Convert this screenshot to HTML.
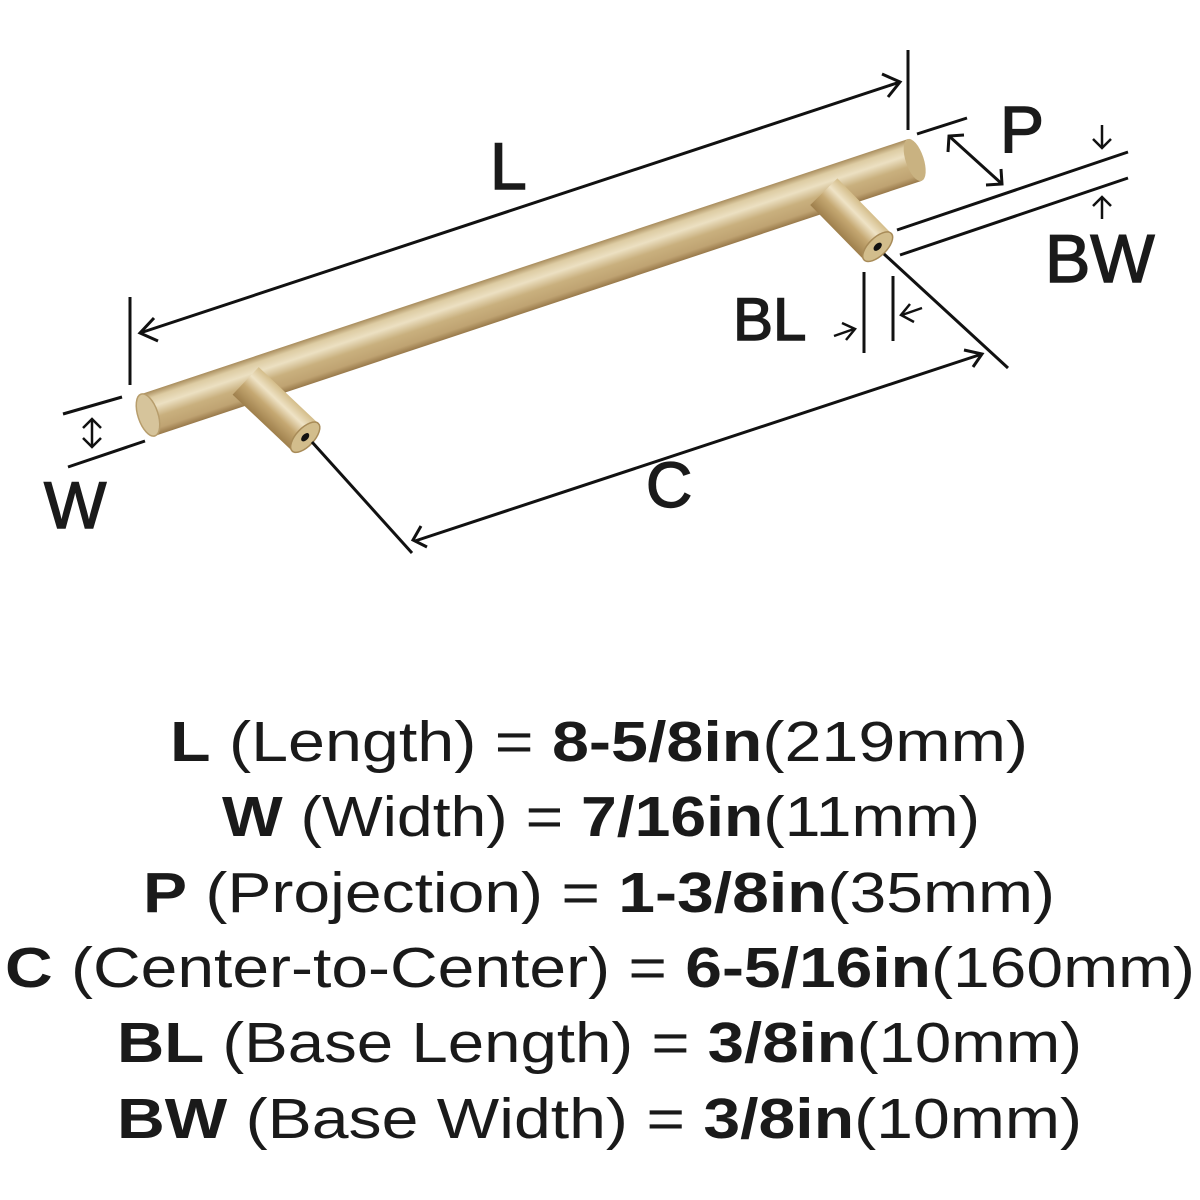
<!DOCTYPE html>
<html><head><meta charset="utf-8"><style>
html,body{margin:0;padding:0;background:#fff}
svg{display:block}
</style></head><body>
<svg width="1200" height="1200" viewBox="0 0 1200 1200" xmlns="http://www.w3.org/2000/svg">
<defs>
<linearGradient id="bar" x1="0" y1="0" x2="0" y2="1">
<stop offset="0" stop-color="#a88c5c"/>
<stop offset="0.15" stop-color="#ddcca3"/>
<stop offset="0.35" stop-color="#ece0c2"/>
<stop offset="0.6" stop-color="#c9b07e"/>
<stop offset="0.85" stop-color="#bfa372"/>
<stop offset="1" stop-color="#98794a"/>
</linearGradient>
<linearGradient id="post" x1="0" y1="0" x2="0" y2="1">
<stop offset="0" stop-color="#d4bd8a"/>
<stop offset="0.3" stop-color="#efe3c6"/>
<stop offset="0.6" stop-color="#c5a872"/>
<stop offset="1" stop-color="#9e7f4c"/>
</linearGradient>
</defs>
<!-- bar -->
<g transform="rotate(-18.4 148 415)">
<rect x="148" y="393" width="808" height="44" fill="url(#bar)"/>
<ellipse cx="956" cy="415" rx="9" ry="22" fill="#c9b281"/>
<ellipse cx="148" cy="415" rx="10" ry="22" fill="#d6c49b" stroke="#b79d6c" stroke-width="1.5"/>
</g>
<!-- left post -->
<g transform="rotate(43.4 250 385)">
<rect x="244" y="366" width="82" height="38" fill="url(#post)"/>
<ellipse cx="326" cy="385" rx="9" ry="19" fill="#d2bd8c" stroke="#a88b58" stroke-width="1.5"/>
<ellipse cx="326" cy="385" rx="3" ry="5" fill="#111"/>
</g>
<!-- right post -->
<g transform="rotate(45.6 828 196)">
<rect x="822" y="177" width="77" height="38" fill="url(#post)"/>
<ellipse cx="899" cy="196" rx="9" ry="19" fill="#d2bd8c" stroke="#a88b58" stroke-width="1.5"/>
<ellipse cx="899" cy="196" rx="3" ry="5" fill="#111"/>
</g>
<g stroke="#111" stroke-width="3" fill="none" stroke-linecap="butt">
<!-- L -->
<line x1="130" y1="297" x2="130" y2="385"/>
<line x1="908" y1="50" x2="908" y2="130"/>
<line x1="140" y1="333" x2="900" y2="82"/>
<polyline points="154,318 140,333 158,341"/>
<polyline points="882,74 900,82 888,97"/>
<!-- W -->
<line x1="63" y1="414" x2="122" y2="397"/>
<line x1="68" y1="467" x2="145" y2="441"/>
<line x1="92" y1="419" x2="92" y2="447" stroke-width="2.5"/>
<polyline points="83,428 92,419 101,428" stroke-width="2.5"/>
<polyline points="83,438 92,447 101,438" stroke-width="2.5"/>
<!-- C -->
<line x1="312" y1="442" x2="412" y2="553"/>
<line x1="884" y1="254" x2="1008" y2="368"/>
<line x1="415" y1="541" x2="982" y2="354"/>
<polyline points="421,526 413,540 427,547"/>
<polyline points="964,350 982,354 973,367"/>
<!-- P -->
<line x1="917" y1="134" x2="967" y2="118"/>
<line x1="949" y1="136" x2="1002" y2="184"/>
<polyline points="948,152 949,136 964,135"/>
<polyline points="986,185 1002,184 1001,169"/>
<!-- BW -->
<line x1="897" y1="230" x2="1128" y2="152"/>
<line x1="900" y1="255" x2="1128" y2="178"/>
<line x1="1102" y1="125" x2="1102" y2="147" stroke-width="2.5"/>
<polyline points="1093,139 1102,148 1111,139" stroke-width="2.5"/>
<line x1="1102" y1="198" x2="1102" y2="219" stroke-width="2.5"/>
<polyline points="1093,206 1102,197 1111,206" stroke-width="2.5"/>
<!-- BL -->
<line x1="864" y1="272" x2="864" y2="353"/>
<line x1="893" y1="276" x2="893" y2="341"/>
<line x1="834" y1="336" x2="854" y2="329" stroke-width="2.5"/>
<polyline points="842,323 855,329 846,340" stroke-width="2.5"/>
<line x1="922" y1="308" x2="902" y2="315" stroke-width="2.5"/>
<polyline points="914,322 901,315 910,304" stroke-width="2.5"/>
</g>
<g font-family="Liberation Sans, sans-serif" fill="#1a1a1a" stroke="#1a1a1a" stroke-width="1.5">
<text x="490" y="189" font-size="66">L</text>
<text x="1000" y="152" font-size="66">P</text>
<text x="1045" y="282" font-size="68">BW</text>
<text x="733" y="340" font-size="60">BL</text>
<text x="646" y="507" font-size="64">C</text>
<text x="44" y="528" font-size="66">W</text>
</g>
<g font-family="Liberation Sans, sans-serif" font-size="57" fill="#1a1a1a" text-anchor="start">
<text x="170" y="761" textLength="858" lengthAdjust="spacingAndGlyphs"><tspan font-weight="bold">L</tspan> (Length) = <tspan font-weight="bold">8-5/8in</tspan>(219mm)</text>
<text x="222" y="836" textLength="758" lengthAdjust="spacingAndGlyphs"><tspan font-weight="bold">W</tspan> (Width) = <tspan font-weight="bold">7/16in</tspan>(11mm)</text>
<text x="143" y="912" textLength="912" lengthAdjust="spacingAndGlyphs"><tspan font-weight="bold">P</tspan> (Projection) = <tspan font-weight="bold">1-3/8in</tspan>(35mm)</text>
<text x="5" y="987" textLength="1190" lengthAdjust="spacingAndGlyphs"><tspan font-weight="bold">C</tspan> (Center-to-Center) = <tspan font-weight="bold">6-5/16in</tspan>(160mm)</text>
<text x="117" y="1062" textLength="965" lengthAdjust="spacingAndGlyphs"><tspan font-weight="bold">BL</tspan> (Base Length) = <tspan font-weight="bold">3/8in</tspan>(10mm)</text>
<text x="117" y="1138" textLength="965" lengthAdjust="spacingAndGlyphs"><tspan font-weight="bold">BW</tspan> (Base Width) = <tspan font-weight="bold">3/8in</tspan>(10mm)</text>
</g>
</svg>
</body></html>
